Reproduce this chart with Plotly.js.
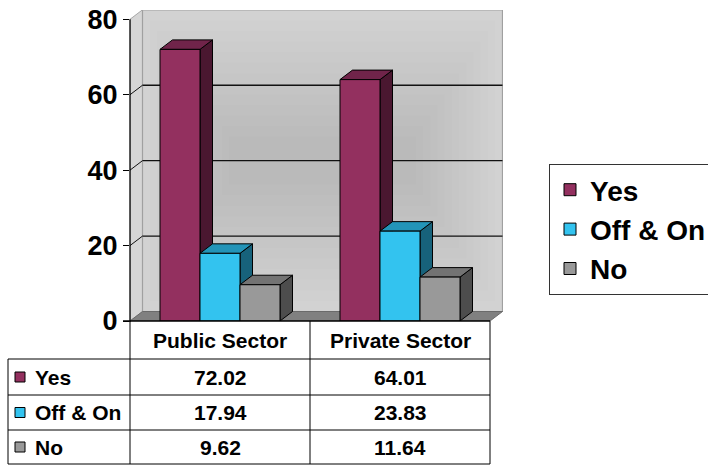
<!DOCTYPE html>
<html><head><meta charset="utf-8">
<script src="https://cdn.plot.ly/plotly-3.0.1.min.js"></script>
<style>html,body{margin:0;padding:0;background:#fff}</style>
</head><body><div id="chart" style="width:708px;height:465px"></div>
<script>
// ---- data ----
const categories = ['Public Sector', 'Private Sector'];
const seriesNames = ['Yes', 'Off & On', 'No'];
const yesValues = [72.02, 64.01];
const offOnValues = [17.94, 23.83];
const noValues = [9.62, 11.64];
const yTicks = [0, 20, 40, 60, 80];

// ---- styles / geometry ----
const series = [yesValues, offOnValues, noValues];
const frontColors = ['#93305f', '#33c3ef', '#999999'];
const topColors = ['#70244a', '#2394b8', '#737373'];
const sideColors = ['#4a1730', '#17627b', '#4d4d4d'];
const FONT = 'Liberation Sans, Arial, sans-serif';

const W = 708, H = 465, L = 130, R = 205, T = 10, B = 144;
const plotW = W - L - R, plotH = H - T - B;
const pxPerCat = 180;
const pxPerUnit = 301.7 / 80;
const xMin = -0.5, xFront = xMin + categories.length;
const xMax = xMin + plotW / pxPerCat;
const yMax = plotH / pxPerUnit;
const dX = 12.5 / pxPerCat, dY = 9.5 / pxPerUnit;
const barW = 40 / pxPerCat;
const groupStart = -60 / pxPerCat;
const yTop = yTicks[yTicks.length - 1];

const px = p => (p - L) / plotW;          // pixel x -> paper
const py = p => (H - B - p) / plotH;      // pixel y -> paper

const path = pts => 'M' + pts.map(p => p[0] + ',' + p[1]).join('L') + 'Z';
const shapes = [];

// side wall (left)
shapes.push({type: 'path', layer: 'below', xref: 'x', yref: 'y',
  path: path([[xMin, 0], [xMin + dX, dY], [xMin + dX, yTop + dY], [xMin, yTop]]),
  fillcolor: '#d6d6d6', line: {color: '#a8a8a8', width: 1}});
// back wall
shapes.push({type: 'rect', layer: 'below', xref: 'x', yref: 'y',
  x0: xMin + dX, x1: xFront + dX, y0: dY, y1: yTop + dY,
  fillcolor: '#d2d2d2', line: {color: '#a0a0a0', width: 1.2}});
// soft shading toward the centre of the back wall
for (let k = 1; k <= 12; k++) {
  const sx = k * 0.04, sy = k * 2.8;
  shapes.push({type: 'rect', layer: 'below', xref: 'x', yref: 'y',
    x0: xMin + dX + sx, x1: xFront + dX - sx, y0: dY + sy, y1: yTop + dY - sy,
    fillcolor: 'rgba(0,0,0,0.006)', line: {width: 0}});
}
// floor
shapes.push({type: 'path', layer: 'below', xref: 'x', yref: 'y',
  path: path([[xMin, 0], [xFront, 0], [xFront + dX, dY], [xMin + dX, dY]]),
  fillcolor: '#808080', line: {color: '#6a6a6a', width: 1}});
// gridlines on back wall + side wall diagonals
yTicks.filter(v => v > 0 && v < yTop).forEach(v => {
  shapes.push({type: 'line', layer: 'below', xref: 'x', yref: 'y',
    x0: xMin + dX, x1: xFront + dX, y0: v + dY, y1: v + dY,
    line: {color: '#111', width: 1.3}});
  shapes.push({type: 'line', layer: 'below', xref: 'x', yref: 'y',
    x0: xMin, x1: xMin + dX, y0: v, y1: v + dY,
    line: {color: '#111', width: 1}});
});
// 3D faces of bars (drawn under the bar fronts, left to right)
categories.forEach((c, j) => {
  series.forEach((vals, i) => {
    const v = vals[j];
    const x0 = j + groupStart + i * barW, x1 = x0 + barW;
    shapes.push({type: 'path', layer: 'below', xref: 'x', yref: 'y',
      path: path([[x1, 0], [x1 + dX, dY], [x1 + dX, v + dY], [x1, v]]),
      fillcolor: sideColors[i], line: {color: '#000', width: 1}});
    shapes.push({type: 'path', layer: 'below', xref: 'x', yref: 'y',
      path: path([[x0, v], [x1, v], [x1 + dX, v + dY], [x0 + dX, v + dY]]),
      fillcolor: topColors[i], line: {color: '#000', width: 1}});
  });
});

// axis lines
shapes.push({type: 'line', layer: 'above', xref: 'paper', yref: 'paper',
  x0: 0, x1: 0, y0: py(322), y1: py(H - B - yTop * pxPerUnit), line: {color: '#000', width: 1.3}});
shapes.push({type: 'line', layer: 'above', xref: 'paper', yref: 'paper',
  x0: px(123), x1: px(490), y0: 0, y1: 0, line: {color: '#000', width: 1.3}});

// data table
const colEdges = [8, 130, 310, 490];
const rowEdges = [321, 359, 395, 430, 464];
const tl = {color: '#000', width: 1};
colEdges.slice(1).forEach(x => shapes.push({type: 'line', xref: 'paper', yref: 'paper',
  x0: px(x), x1: px(x), y0: py(rowEdges[0]), y1: py(rowEdges[4]), line: tl}));
shapes.push({type: 'line', xref: 'paper', yref: 'paper',
  x0: px(colEdges[0]), x1: px(colEdges[0]), y0: py(rowEdges[1]), y1: py(rowEdges[4]), line: tl});
rowEdges.slice(1).forEach(y => shapes.push({type: 'line', xref: 'paper', yref: 'paper',
  x0: px(colEdges[0]), x1: px(colEdges[3]), y0: py(y), y1: py(y), line: tl}));

const annotations = [];
const tf = {family: FONT, size: 21, color: '#000', weight: 'bold'};
categories.forEach((c, j) => annotations.push({xref: 'x', yref: 'paper', x: j, y: py((rowEdges[0] + rowEdges[1]) / 2),
  text: c, showarrow: false, font: tf, xanchor: 'center', yanchor: 'middle'}));
series.forEach((vals, i) => {
  const yc = (rowEdges[i + 1] + rowEdges[i + 2]) / 2;
  shapes.push({type: 'rect', xref: 'paper', yref: 'paper',
    x0: px(15), x1: px(25), y0: py(yc - 5), y1: py(yc + 5),
    fillcolor: frontColors[i], line: {color: '#000', width: 1}});
  annotations.push({xref: 'paper', yref: 'paper', x: px(33), y: py(yc), text: seriesNames[i],
    showarrow: false, font: tf, xanchor: 'left', yanchor: 'middle'});
  vals.forEach((v, j) => annotations.push({xref: 'x', yref: 'paper', x: j, y: py(yc),
    text: v.toFixed(2), showarrow: false, font: tf, xanchor: 'center', yanchor: 'middle'}));
});

const traces = series.map((vals, i) => ({
  type: 'bar', name: seriesNames[i],
  x: categories.map((c, j) => j), y: vals,
  width: barW, offset: groupStart + i * barW,
  marker: {color: frontColors[i], line: {color: '#000', width: 1}},
  hoverinfo: 'skip'
}));

const layout = {
  width: W, height: H,
  margin: {l: L, r: R, t: T, b: B, pad: 0, autoexpand: false},
  paper_bgcolor: '#fff', plot_bgcolor: '#fff',
  barmode: 'overlay',
  showlegend: true,
  legend: {x: px(549), y: py(164), xanchor: 'left', yanchor: 'top',
    bgcolor: '#fff', bordercolor: '#333', borderwidth: 1,
    font: {family: FONT, size: 28, color: '#000', weight: 'bold'},
    tracegroupgap: 0, itemwidth: 30},
  xaxis: {range: [xMin, xMax], showgrid: false, zeroline: false, showline: false,
    showticklabels: false, ticks: '', tickvals: categories.map((c, j) => j), ticktext: categories},
  yaxis: {range: [0, yMax], tickvals: yTicks, showgrid: false, zeroline: false, showline: false,
    ticks: 'outside', ticklen: 6, tickwidth: 1, tickcolor: '#000',
    tickfont: {family: FONT, size: 27, color: '#000', weight: 'bold'}, ticklabelstandoff: 0},
  shapes: shapes,
  annotations: annotations
};

Plotly.newPlot('chart', traces, layout, {displayModeBar: false, staticPlot: true});
</script></body></html>
